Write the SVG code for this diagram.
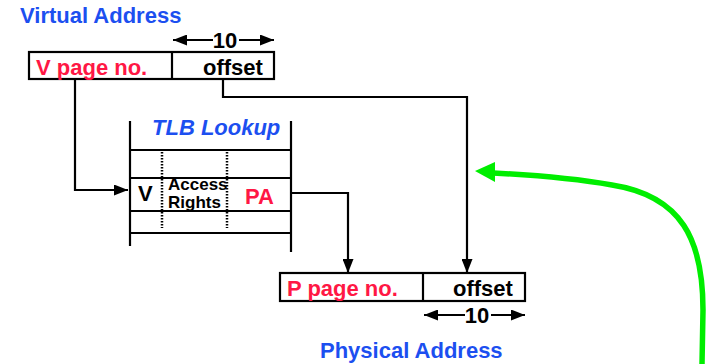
<svg xmlns="http://www.w3.org/2000/svg" width="717" height="364" viewBox="0 0 717 364">
<style>
text{font-family:"Liberation Sans",Arial,sans-serif;font-weight:bold}
.t{font-size:22px}
.blue{fill:#1c4ff0}
.red{fill:#ff1744}
.blk{fill:#000}
.box{fill:#fff;stroke:#000;stroke-width:2.2}
.ln{fill:none;stroke:#000;stroke-width:2.2}
.dash{fill:none;stroke:#000;stroke-width:2.5;stroke-dasharray:1.5 1.5}
</style>
<defs>
<marker id="ah2" viewBox="0 0 14 11" refX="14" refY="5.5" markerWidth="14" markerHeight="11" markerUnits="userSpaceOnUse" orient="auto-start-reverse">
<path d="M0 0 L14 5.5 L0 11 z" fill="#000"/>
</marker>
</defs>
<rect width="717" height="364" fill="#fff"/>

<g id="virtual-address">
<text class="t blue" x="20" y="23">Virtual Address</text>
<rect class="box" x="29" y="52" width="245" height="27"/>
<line class="ln" x1="172" y1="52" x2="172" y2="79"/>
<text class="t red" x="36" y="75">V page no.</text>
<text class="t blk" x="203" y="75">offset</text>
<line class="ln" x1="173" y1="40" x2="213" y2="40" marker-start="url(#ah2)"/>
<line class="ln" x1="239" y1="40" x2="274" y2="40" marker-end="url(#ah2)"/>
<text class="t blk" x="225" y="48" text-anchor="middle">10</text>
</g>

<g id="tlb">
<text class="t blue" x="152" y="135" font-style="italic">TLB Lookup</text>
<line class="ln" x1="130" y1="121" x2="130" y2="246"/>
<line class="ln" x1="291" y1="121" x2="291" y2="252"/>
<line class="ln" x1="130" y1="150" x2="291" y2="150"/>
<line class="ln" x1="130" y1="178" x2="291" y2="178"/>
<line class="ln" x1="130" y1="211" x2="291" y2="211"/>
<line class="ln" x1="130" y1="233" x2="291" y2="233"/>
<line class="dash" x1="162" y1="152" x2="162" y2="228"/>
<line class="dash" x1="227" y1="152" x2="227" y2="228"/>
<text class="t blk" x="138" y="201">V</text>
<text class="blk" x="168" y="190" font-size="17">Access</text>
<text class="blk" x="168" y="208" font-size="17">Rights</text>
<text class="t red" x="245" y="204">PA</text>
</g>

<g id="physical-address">
<rect class="box" x="280" y="273" width="245" height="28"/>
<line class="ln" x1="423" y1="273" x2="423" y2="301"/>
<text class="t red" x="287" y="296">P page no.</text>
<text class="t blk" x="453" y="296">offset</text>
<line class="ln" x1="424" y1="315" x2="465" y2="315" marker-start="url(#ah2)"/>
<line class="ln" x1="491" y1="315" x2="525" y2="315" marker-end="url(#ah2)"/>
<text class="t blk" x="477" y="323" text-anchor="middle">10</text>
<text class="t blue" x="320" y="358">Physical Address</text>
</g>

<g id="connectors">
<polyline class="ln" points="75,79 75,190 128,190" marker-end="url(#ah2)"/>
<polyline class="ln" points="223,79 223,97 467,97 467,273" marker-end="url(#ah2)"/>
<polyline class="ln" points="291,193 348,193 348,273" marker-end="url(#ah2)"/>
<path d="M702 364 L703 310 C703 240 682 196 612 185 C572 178 532 175 493 173" fill="none" stroke="#00ee00" stroke-width="5.5"/>
<polygon points="475,171 495,162 495,182" fill="#00ee00"/>
</g>
</svg>
